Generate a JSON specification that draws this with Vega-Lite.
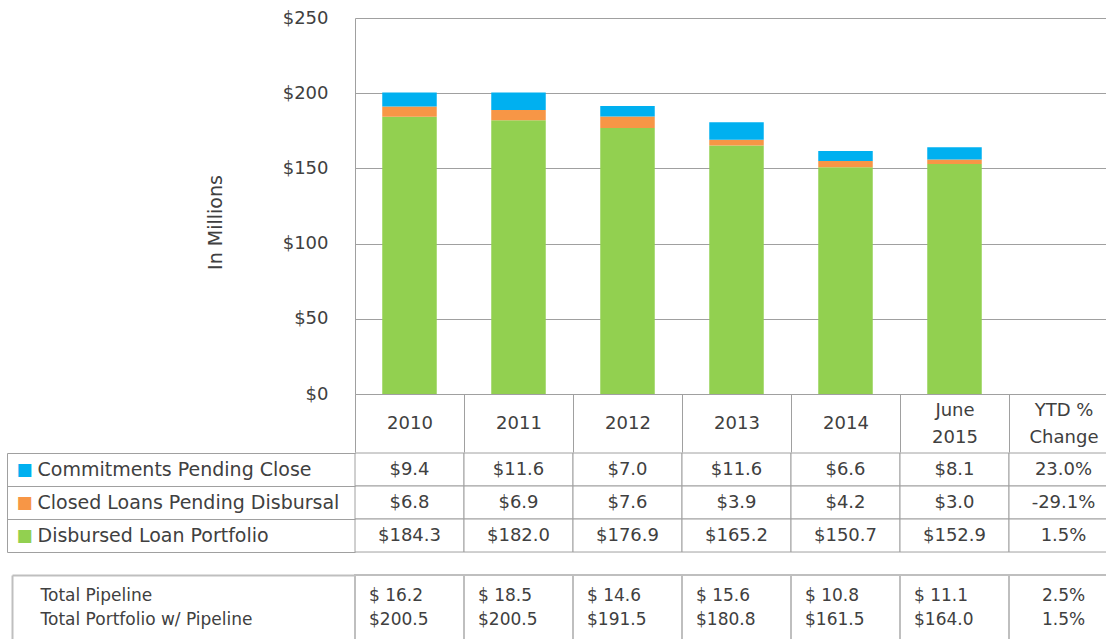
{
  "$schema": "https://vega.github.io/schema/vega-lite/v6.json",
  "background": "white",
  "padding": {"left": 6, "top": 9, "right": 0, "bottom": 0},
  "spacing": -9,
  "config": {
    "view": {"stroke": null},
    "font": "DejaVu Sans",
    "axis": {"labelFont": "DejaVu Sans", "titleFont": "DejaVu Sans"},
    "text": {"font": "DejaVu Sans"}
  },
  "resolve": {"scale": {"x": "independent", "y": "independent", "color": "independent"}},
  "datasets": {
    "bars": [
      {"period": "2010", "series": "Disbursed Loan Portfolio", "rank": 1, "value": 184.3},
      {"period": "2010", "series": "Closed Loans Pending Disbursal", "rank": 2, "value": 6.8},
      {"period": "2010", "series": "Commitments Pending Close", "rank": 3, "value": 9.4},
      {"period": "2011", "series": "Disbursed Loan Portfolio", "rank": 1, "value": 182.0},
      {"period": "2011", "series": "Closed Loans Pending Disbursal", "rank": 2, "value": 6.9},
      {"period": "2011", "series": "Commitments Pending Close", "rank": 3, "value": 11.6},
      {"period": "2012", "series": "Disbursed Loan Portfolio", "rank": 1, "value": 176.9},
      {"period": "2012", "series": "Closed Loans Pending Disbursal", "rank": 2, "value": 7.6},
      {"period": "2012", "series": "Commitments Pending Close", "rank": 3, "value": 7.0},
      {"period": "2013", "series": "Disbursed Loan Portfolio", "rank": 1, "value": 165.2},
      {"period": "2013", "series": "Closed Loans Pending Disbursal", "rank": 2, "value": 3.9},
      {"period": "2013", "series": "Commitments Pending Close", "rank": 3, "value": 11.6},
      {"period": "2014", "series": "Disbursed Loan Portfolio", "rank": 1, "value": 150.7},
      {"period": "2014", "series": "Closed Loans Pending Disbursal", "rank": 2, "value": 4.2},
      {"period": "2014", "series": "Commitments Pending Close", "rank": 3, "value": 6.6},
      {"period": "June 2015", "series": "Disbursed Loan Portfolio", "rank": 1, "value": 152.9},
      {"period": "June 2015", "series": "Closed Loans Pending Disbursal", "rank": 2, "value": 3.0},
      {"period": "June 2015", "series": "Commitments Pending Close", "rank": 3, "value": 8.1}
    ],
    "table": [
      {"period": "2010", "row": "Commitments Pending Close", "text": "$9.4"},
      {"period": "2011", "row": "Commitments Pending Close", "text": "$11.6"},
      {"period": "2012", "row": "Commitments Pending Close", "text": "$7.0"},
      {"period": "2013", "row": "Commitments Pending Close", "text": "$11.6"},
      {"period": "2014", "row": "Commitments Pending Close", "text": "$6.6"},
      {"period": "June 2015", "row": "Commitments Pending Close", "text": "$8.1"},
      {"period": "YTD % Change", "row": "Commitments Pending Close", "text": "23.0%"},
      {"period": "2010", "row": "Closed Loans Pending Disbursal", "text": "$6.8"},
      {"period": "2011", "row": "Closed Loans Pending Disbursal", "text": "$6.9"},
      {"period": "2012", "row": "Closed Loans Pending Disbursal", "text": "$7.6"},
      {"period": "2013", "row": "Closed Loans Pending Disbursal", "text": "$3.9"},
      {"period": "2014", "row": "Closed Loans Pending Disbursal", "text": "$4.2"},
      {"period": "June 2015", "row": "Closed Loans Pending Disbursal", "text": "$3.0"},
      {"period": "YTD % Change", "row": "Closed Loans Pending Disbursal", "text": "-29.1%"},
      {"period": "2010", "row": "Disbursed Loan Portfolio", "text": "$184.3"},
      {"period": "2011", "row": "Disbursed Loan Portfolio", "text": "$182.0"},
      {"period": "2012", "row": "Disbursed Loan Portfolio", "text": "$176.9"},
      {"period": "2013", "row": "Disbursed Loan Portfolio", "text": "$165.2"},
      {"period": "2014", "row": "Disbursed Loan Portfolio", "text": "$150.7"},
      {"period": "June 2015", "row": "Disbursed Loan Portfolio", "text": "$152.9"},
      {"period": "YTD % Change", "row": "Disbursed Loan Portfolio", "text": "1.5%"}
    ],
    "totals": [
      {"period": "2010", "measure": "Total Pipeline", "text": "$ 16.2"},
      {"period": "2011", "measure": "Total Pipeline", "text": "$ 18.5"},
      {"period": "2012", "measure": "Total Pipeline", "text": "$ 14.6"},
      {"period": "2013", "measure": "Total Pipeline", "text": "$ 15.6"},
      {"period": "2014", "measure": "Total Pipeline", "text": "$ 10.8"},
      {"period": "June 2015", "measure": "Total Pipeline", "text": "$ 11.1"},
      {"period": "YTD % Change", "measure": "Total Pipeline", "text": "2.5%"},
      {"period": "2010", "measure": "Total Portfolio w/ Pipeline", "text": "$200.5"},
      {"period": "2011", "measure": "Total Portfolio w/ Pipeline", "text": "$200.5"},
      {"period": "2012", "measure": "Total Portfolio w/ Pipeline", "text": "$191.5"},
      {"period": "2013", "measure": "Total Portfolio w/ Pipeline", "text": "$180.8"},
      {"period": "2014", "measure": "Total Portfolio w/ Pipeline", "text": "$161.5"},
      {"period": "June 2015", "measure": "Total Portfolio w/ Pipeline", "text": "$164.0"},
      {"period": "YTD % Change", "measure": "Total Portfolio w/ Pipeline", "text": "1.5%"}
    ]
  },
  "vconcat": [
    {
      "width": 763,
      "height": 376,
      "data": {"name": "bars"},
      "mark": {"type": "bar", "width": {"band": 0.5}},
      "encoding": {
        "x": {
          "field": "period", "type": "nominal", "sort": null,
          "scale": {"domain": ["2010", "2011", "2012", "2013", "2014", "June 2015", "YTD % Change"], "paddingInner": 0, "paddingOuter": 0},
          "axis": {
            "title": null, "orient": "bottom", "labelAngle": 0,
            "domain": true, "domainColor": "#a0a0a0",
            "ticks": true, "tickBand": "extent", "tickSize": 58, "tickColor": "#a0a0a0",
            "labelPadding": {"condition": {"test": "datum.value == 'June 2015' || datum.value == 'YTD % Change'", "value": -42}, "value": -29},
            "labelBaseline": "middle", "labelFontSize": 18, "labelColor": "#404040",
            "labelLineHeight": 27, "labelOverlap": false, "labelBound": false,
            "labelExpr": "datum.value == 'June 2015' ? ['June', '2015'] : datum.value == 'YTD % Change' ? ['YTD %', 'Change'] : datum.value"
          }
        },
        "y": {
          "field": "value", "type": "quantitative", "stack": "zero",
          "scale": {"domain": [0, 250], "nice": false},
          "axis": {
            "values": [0, 50, 100, 150, 200, 250],
            "labelExpr": "'$' + datum.value",
            "title": "In Millions", "titleFontSize": 19, "titleFontWeight": "normal", "titleColor": "#404040",
            "titleX": -130, "titleY": 204,
            "domain": true, "domainColor": "#a0a0a0",
            "ticks": false, "grid": true, "gridColor": "#a0a0a0", "gridOpacity": 1,
            "labelPadding": 27, "labelFontSize": 18, "labelColor": "#404040"
          }
        },
        "order": {"field": "rank", "type": "quantitative", "sort": "ascending"},
        "color": {
          "field": "series", "type": "nominal",
          "scale": {"domain": ["Disbursed Loan Portfolio", "Closed Loans Pending Disbursal", "Commitments Pending Close"], "range": ["#92D050", "#F79646", "#00B0F0"]},
          "legend": null
        }
      }
    },
    {
      "width": 763,
      "height": 122,
      "data": {"name": "table"},
      "layer": [
        {
          "mark": {"type": "rect", "fill": "white", "stroke": "#a0a0a0", "strokeWidth": 1},
          "encoding": {
            "x": {
              "field": "period", "type": "nominal", "sort": null,
              "scale": {"domain": ["2010", "2011", "2012", "2013", "2014", "June 2015", "YTD % Change"], "paddingInner": 0, "paddingOuter": 0},
              "axis": null
            },
            "y": {
              "field": "row", "type": "nominal", "sort": null,
              "scale": {"type": "band", "domain": ["Commitments Pending Close", "Closed Loans Pending Disbursal", "Disbursed Loan Portfolio"], "paddingInner": 0, "paddingOuter": 0.348, "align": 0},
              "axis": {
                "title": null, "orient": "left", "offset": 348,
                "domain": true, "domainColor": "#a0a0a0", "domainDash": [99, 200],
                "ticks": true, "tickBand": "extent", "tickSize": -348, "tickColor": "#a0a0a0",
                "labelAlign": "left", "labelBaseline": "middle", "labelPadding": 318,
                "labelFontSize": 19, "labelColor": "#404040", "labelLimit": 400
              }
            }
          }
        },
        {
          "mark": {"type": "text", "fontSize": 18, "color": "#404040"},
          "encoding": {
            "x": {"field": "period", "type": "nominal", "sort": null},
            "y": {
              "field": "row", "type": "nominal", "sort": null,
              "axis": {
                "title": null, "orient": "left", "offset": 339,
                "domain": false, "ticks": false,
                "labelAlign": "left", "labelBaseline": "middle", "labelPadding": 0,
                "labelExpr": "'■'", "labelFontSize": 17,
                "labelColor": {"condition": [{"test": "datum.value == 'Commitments Pending Close'", "value": "#00B0F0"}, {"test": "datum.value == 'Closed Loans Pending Disbursal'", "value": "#F79646"}], "value": "#92D050"}
              }
            },
            "text": {"field": "text"}
          }
        }
      ],
      "resolve": {"axis": {"y": "independent"}}
    },
    {
      "width": 763,
      "height": 66,
      "data": {"name": "totals"},
      "layer": [
        {
          "transform": [{"filter": "datum.measure == 'Total Pipeline'"}],
          "mark": {"type": "rect", "fill": "white", "stroke": "#bfbfbf", "strokeWidth": 2},
          "encoding": {
            "x": {
              "field": "period", "type": "nominal", "sort": null,
              "scale": {"domain": ["2010", "2011", "2012", "2013", "2014", "June 2015", "YTD % Change"], "paddingInner": 0, "paddingOuter": 0},
              "axis": null
            },
            "y": {
              "datum": "Totals", "type": "nominal",
              "scale": {"type": "band", "paddingInner": 0, "paddingOuter": 0},
              "axis": {
                "title": null, "orient": "left", "offset": 343,
                "domain": true, "domainColor": "#bfbfbf", "domainWidth": 2,
                "ticks": true, "tickBand": "extent", "tickSize": -343, "tickColor": "#bfbfbf", "tickWidth": 2,
                "labels": false
              }
            }
          }
        },
        {
          "transform": [{"filter": "datum.period != 'YTD % Change'"}],
          "mark": {"type": "text", "align": "left", "dx": 14, "fontSize": 17, "color": "#404040"},
          "encoding": {
            "x": {"field": "period", "type": "nominal", "sort": null, "bandPosition": 0},
            "y": {
              "field": "measure", "type": "nominal", "sort": null,
              "scale": {"type": "band", "domain": ["Total Pipeline", "Total Portfolio w/ Pipeline"], "paddingInner": 0, "paddingOuter": 0.375},
              "axis": {
                "title": null, "orient": "left", "offset": 343,
                "domain": false, "ticks": false,
                "labelAlign": "left", "labelBaseline": "middle", "labelPadding": -28,
                "labelFontSize": 17, "labelColor": "#404040", "labelLimit": 400
              }
            },
            "text": {"field": "text"}
          }
        },
        {
          "transform": [{"filter": "datum.period == 'YTD % Change'"}],
          "mark": {"type": "text", "align": "center", "fontSize": 17, "color": "#404040"},
          "encoding": {
            "x": {"field": "period", "type": "nominal", "sort": null},
            "y": {
              "field": "measure", "type": "nominal", "sort": null,
              "scale": {"type": "band", "domain": ["Total Pipeline", "Total Portfolio w/ Pipeline"], "paddingInner": 0, "paddingOuter": 0.375},
              "axis": null
            },
            "text": {"field": "text"}
          }
        }
      ],
      "resolve": {"scale": {"y": "independent"}, "axis": {"y": "independent"}}
    }
  ]
}
